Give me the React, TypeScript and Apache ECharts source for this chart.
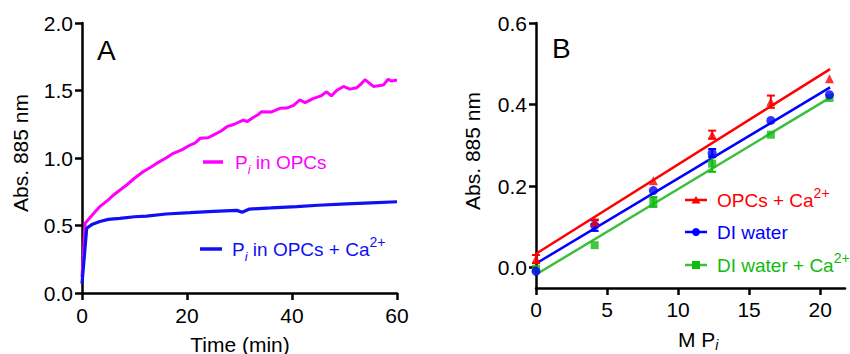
import React, { useEffect, useRef } from "react";
import * as echarts from "echarts";

// ---------- Panel A data ----------
const tOpc = [0, 0.6, 2, 3.4, 5, 6, 7.5, 8.5, 10, 11.7, 13, 14.2, 16, 17.4, 19, 20.6, 21.5, 22.5, 24, 25, 26.5, 27.6, 29, 30.7, 31.5, 32.6, 33.5, 34.2, 36, 37.7, 39, 40.3, 41.5, 42.5, 44, 45.5, 46.6, 47.5, 48.5, 49.8, 51, 52.3, 53.2, 53.9, 55.5, 57.4, 58.3, 59, 60];
const vOpc = [0.12, 0.516, 0.58, 0.64, 0.69, 0.726, 0.77, 0.8, 0.85, 0.9, 0.93, 0.96, 1.0, 1.035, 1.06, 1.096, 1.11, 1.146, 1.15, 1.17, 1.2, 1.232, 1.25, 1.28, 1.27, 1.3, 1.32, 1.343, 1.34, 1.368, 1.37, 1.39, 1.43, 1.41, 1.44, 1.46, 1.49, 1.46, 1.5, 1.53, 1.51, 1.52, 1.55, 1.58, 1.53, 1.54, 1.583, 1.57, 1.578];
const tCa = [0, 0.9, 2, 3.4, 5, 7.2, 10, 12.3, 16, 20.6, 25, 29.5, 30.5, 31.9, 36, 40.9, 45, 50.4, 55, 60];
const vCa = [0.07, 0.48, 0.51, 0.53, 0.545, 0.553, 0.565, 0.57, 0.585, 0.595, 0.605, 0.612, 0.598, 0.622, 0.63, 0.64, 0.65, 0.66, 0.668, 0.676];
const xTicksA = [0, 20, 40, 60];
const yTicksA = [0, 0.5, 1.0, 1.5, 2.0];

// ---------- Panel B data ----------
const concB = [0, 4.13, 8.26, 12.4, 16.53, 20.66];
const redMean = [0.021, 0.112, 0.213, 0.326, 0.407, 0.463];
const redErr = [0.01, 0.006, 0, 0.01, 0.015, 0];
const blueMean = [-0.009, 0.103, 0.189, 0.281, 0.361, 0.424];
const blueErr = [0, 0.013, 0, 0.01, 0, 0];
const greenMean = [-0.003, 0.055, 0.161, 0.255, 0.326, 0.416];
const greenErr = [0, 0, 0.012, 0.02, 0, 0];
const fitX = [0, 20.7];
const redFit = [0.034, 0.487];
const blueFit = [0.01, 0.442];
const greenFit = [-0.017, 0.417];
const xTicksB = [0, 5, 10, 15, 20];
const yTicksB = [0, 0.2, 0.4, 0.6];

const FONT = '"Liberation Sans", Arial, Helvetica, sans-serif';
const MAGENTA = "#FF00FF";
const BLUE_A = "#1010F5";
const RED = "#FF0000";
const BLUE = "#0000FF";
const GREEN_LINE = "#3DBE3D";
const GREEN_MARK = "#10BB10";

let measureCtx: CanvasRenderingContext2D | null = null;
function measure(text: string, size: number, italic?: boolean) {
  if (!measureCtx) measureCtx = document.createElement("canvas").getContext("2d");
  if (!measureCtx) return text.length * size * 0.55;
  measureCtx.font = `${italic ? "italic " : ""}${size}px ${FONT}`;
  return measureCtx.measureText(text).width;
}

type Part = { t: string; size: number; italic?: boolean; dy?: number };
function richText(x: number, y: number, parts: Part[], color: string): any[] {
  const out: any[] = [];
  let cx = x;
  for (const p of parts) {
    out.push({
      type: "text",
      x: cx,
      y: y + (p.dy || 0),
      style: {
        text: p.t,
        fill: color,
        font: `${p.italic ? "italic " : ""}${p.size}px ${FONT}`,
        align: "left",
        verticalAlign: "middle",
      },
    });
    cx += measure(p.t, p.size, p.italic);
  }
  return out;
}

function errData(means: number[], errs: number[]) {
  return concB.map((x, i) => [x, means[i], errs[i]]);
}

function errSeries(means: number[], errs: number[], color: string) {
  return {
    type: "custom",
    xAxisIndex: 1,
    yAxisIndex: 1,
    z: 3,
    data: errData(means, errs),
    renderItem: (params: any, api: any) => {
      const x = api.value(0);
      const m = api.value(1);
      const e = api.value(2);
      if (!e) return null;
      const lo = api.coord([x, m - e]);
      const hi = api.coord([x, m + e]);
      const w = 4;
      const st = { stroke: color, lineWidth: 2 };
      return {
        type: "group",
        children: [
          { type: "line", shape: { x1: lo[0], y1: lo[1], x2: hi[0], y2: hi[1] }, style: st },
          { type: "line", shape: { x1: hi[0] - w, y1: hi[1], x2: hi[0] + w, y2: hi[1] }, style: st },
          { type: "line", shape: { x1: lo[0] - w, y1: lo[1], x2: lo[0] + w, y2: lo[1] }, style: st },
        ],
      };
    },
  };
}

export default function App() {
  const ref = useRef<HTMLDivElement>(null);
  useEffect(() => {
    if (!ref.current) return;
    const chart = echarts.init(ref.current, undefined, { renderer: "svg" });

    const axisLineStyle = { color: "#000", width: 2.5 };
    const labelStyle = { color: "#000", fontSize: 21, fontFamily: FONT };

    const graphics: any[] = [
      // Panel letters
      { type: "text", x: 97, y: 50, style: { text: "A", fill: "#000", font: `28px ${FONT}`, align: "left", verticalAlign: "middle" } },
      { type: "text", x: 552, y: 48, style: { text: "B", fill: "#000", font: `28px ${FONT}`, align: "left", verticalAlign: "middle" } },
      // Axis titles
      { type: "text", x: 20, y: 153, rotation: Math.PI / 2, style: { text: "Abs. 885 nm", fill: "#000", font: `21px ${FONT}`, align: "center", verticalAlign: "middle" } },
      { type: "text", x: 472, y: 151, rotation: Math.PI / 2, style: { text: "Abs. 885 nm", fill: "#000", font: `21px ${FONT}`, align: "center", verticalAlign: "middle" } },
      { type: "text", x: 240, y: 344, style: { text: "Time (min)", fill: "#000", font: `21px ${FONT}`, align: "center", verticalAlign: "middle" } },
      ...richText(678, 339, [
        { t: "M P", size: 21 },
        { t: "i", size: 14, italic: true, dy: 6 },
      ], "#000"),
      // Legend A
      { type: "line", shape: { x1: 203, y1: 162, x2: 223, y2: 162 }, style: { stroke: MAGENTA, lineWidth: 3.5 } },
      ...richText(235, 162, [
        { t: "P", size: 19 },
        { t: "i", size: 13, italic: true, dy: 7 },
        { t: " in OPCs", size: 19 },
      ], MAGENTA),
      { type: "line", shape: { x1: 200, y1: 249, x2: 222, y2: 249 }, style: { stroke: BLUE_A, lineWidth: 3.5 } },
      ...richText(232, 249, [
        { t: "P", size: 19 },
        { t: "i", size: 13, italic: true, dy: 7 },
        { t: " in OPCs + Ca", size: 19 },
        { t: "2+", size: 14, dy: -7 },
      ], BLUE_A),
      // Legend B
      { type: "line", shape: { x1: 685, y1: 200, x2: 707, y2: 200 }, style: { stroke: RED, lineWidth: 2.5 } },
      { type: "polygon", shape: { points: [[696, 196], [700.5, 203.5], [691.5, 203.5]] }, style: { fill: RED } },
      ...richText(717, 200, [
        { t: "OPCs + Ca", size: 19 },
        { t: "2+", size: 14, dy: -7 },
      ], RED),
      { type: "line", shape: { x1: 685, y1: 232, x2: 707, y2: 232 }, style: { stroke: BLUE, lineWidth: 2.5 } },
      { type: "circle", shape: { cx: 696, cy: 232, r: 4 }, style: { fill: BLUE } },
      ...richText(717, 232, [{ t: "DI water", size: 19 }], BLUE),
      { type: "line", shape: { x1: 685, y1: 265, x2: 707, y2: 265 }, style: { stroke: GREEN_LINE, lineWidth: 2.5 } },
      { type: "rect", shape: { x: 692, y: 261, width: 8, height: 8 }, style: { fill: GREEN_MARK } },
      ...richText(717, 265, [
        { t: "DI water + Ca", size: 19 },
        { t: "2+", size: 14, dy: -7 },
      ], GREEN_MARK),
    ];

    chart.setOption({
      animation: false,
      backgroundColor: "#fff",
      grid: [
        { left: 82, top: 23, width: 315, height: 270 },
        { left: 536, top: 23, width: 309, height: 265 },
      ],
      xAxis: [
        {
          type: "value", gridIndex: 0, min: 0, max: 60, interval: 20,
          axisLine: { lineStyle: axisLineStyle },
          axisTick: { length: 7, lineStyle: axisLineStyle, customValues: xTicksA },
          axisLabel: { ...labelStyle, margin: 12, customValues: xTicksA, formatter: (v: number) => String(v) },
          splitLine: { show: false },
        },
        {
          type: "value", gridIndex: 1, min: 0, max: 21.75,
          axisLine: { onZero: false, lineStyle: axisLineStyle },
          axisTick: { length: 7, lineStyle: axisLineStyle, customValues: xTicksB },
          axisLabel: { ...labelStyle, margin: 11, customValues: xTicksB, formatter: (v: number) => String(v) },
          splitLine: { show: false },
        },
      ],
      yAxis: [
        {
          type: "value", gridIndex: 0, min: 0, max: 2, interval: 0.5,
          axisLine: { show: true, lineStyle: axisLineStyle },
          axisTick: { show: true, length: 7, lineStyle: axisLineStyle, customValues: yTicksA },
          axisLabel: { ...labelStyle, margin: 9, customValues: yTicksA, formatter: (v: number) => v.toFixed(1) },
          splitLine: { show: false },
        },
        {
          type: "value", gridIndex: 1, min: -0.05, max: 0.6,
          axisLine: { show: true, onZero: false, lineStyle: axisLineStyle },
          axisTick: { show: true, length: 7, lineStyle: axisLineStyle, customValues: yTicksB },
          axisLabel: { ...labelStyle, margin: 9, customValues: yTicksB, formatter: (v: number) => v.toFixed(1) },
          splitLine: { show: false },
        },
      ],
      series: [
        {
          type: "line", xAxisIndex: 0, yAxisIndex: 0, symbol: "none",
          data: tOpc.map((t, i) => [t, vOpc[i]]),
          lineStyle: { color: MAGENTA, width: 3 }, z: 2,
        },
        {
          type: "line", xAxisIndex: 0, yAxisIndex: 0, symbol: "none",
          data: tCa.map((t, i) => [t, vCa[i]]),
          lineStyle: { color: BLUE_A, width: 3.2 }, z: 3,
        },
        // fit lines B
        { type: "line", xAxisIndex: 1, yAxisIndex: 1, symbol: "none", data: fitX.map((x, i) => [x, greenFit[i]]), lineStyle: { color: GREEN_LINE, width: 2.5 }, z: 2 },
        { type: "line", xAxisIndex: 1, yAxisIndex: 1, symbol: "none", data: fitX.map((x, i) => [x, blueFit[i]]), lineStyle: { color: BLUE, width: 2.5 }, z: 2 },
        { type: "line", xAxisIndex: 1, yAxisIndex: 1, symbol: "none", data: fitX.map((x, i) => [x, redFit[i]]), lineStyle: { color: RED, width: 2.5 }, z: 2 },
        errSeries(greenMean, greenErr, GREEN_MARK),
        errSeries(blueMean, blueErr, BLUE),
        errSeries(redMean, redErr, RED),
        { type: "scatter", xAxisIndex: 1, yAxisIndex: 1, symbol: "rect", symbolSize: 8, itemStyle: { color: GREEN_MARK }, data: concB.map((x, i) => [x, greenMean[i]]), z: 4 },
        { type: "scatter", xAxisIndex: 1, yAxisIndex: 1, symbol: "circle", symbolSize: 9, itemStyle: { color: BLUE }, data: concB.map((x, i) => [x, blueMean[i]]), z: 5 },
        { type: "scatter", xAxisIndex: 1, yAxisIndex: 1, symbol: "triangle", symbolSize: 9, itemStyle: { color: RED }, data: concB.map((x, i) => [x, redMean[i]]), z: 6 },
      ],
      graphic: graphics,
    });
    return () => chart.dispose();
  }, []);

  return (
    <div
      ref={ref}
      style={{ position: "absolute", left: 0, top: 0, width: 850, height: 354, background: "#fff" }}
    />
  );
}
